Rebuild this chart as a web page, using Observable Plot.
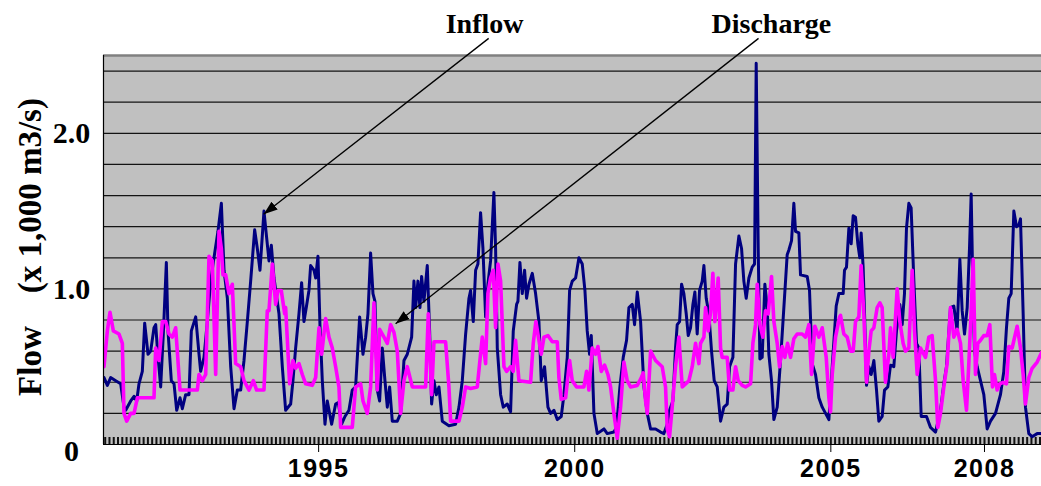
<!DOCTYPE html>
<html><head><meta charset="utf-8">
<script src="https://cdn.jsdelivr.net/npm/d3@7"></script>
<script src="https://cdn.jsdelivr.net/npm/@observablehq/plot@0.6"></script>
<style>
html,body{margin:0;padding:0;background:#fff;}
#chart svg{display:block;}
</style></head><body><div id="chart"></div>
<script>
// Inflow series: [decimal year, flow (x 1,000 m3/s)]
const inflow = [
[1990.81,0.43],[1990.875,0.38],[1990.94,0.43],[1991.038,0.41],[1991.135,0.39],[1991.2,0.24],[1991.233,0.22],[1991.331,0.28],[1991.396,0.31],[1991.448,0.28],[1991.493,0.39],[1991.558,0.47],[1991.604,0.78],[1991.669,0.58],[1991.721,0.60],[1991.786,0.75],[1991.819,0.77],[1991.851,0.62],[1991.916,0.37],[1991.968,0.71],[1992.027,1.17],[1992.059,0.73],[1992.124,0.41],[1992.177,0.39],[1992.229,0.22],[1992.294,0.30],[1992.339,0.23],[1992.404,0.32],[1992.469,0.32],[1992.515,0.73],[1992.6,0.82],[1992.665,0.58],[1992.697,0.47],[1992.762,0.56],[1992.827,0.79],[1992.892,1.05],[1992.957,1.20],[1993.035,1.37],[1993.101,1.55],[1993.153,1.12],[1993.218,0.94],[1993.283,0.50],[1993.348,0.23],[1993.413,0.35],[1993.478,0.35],[1993.543,0.54],[1993.608,0.79],[1993.673,1.05],[1993.751,1.38],[1993.803,1.26],[1993.855,1.12],[1993.933,1.50],[1993.985,1.33],[1994.031,1.18],[1994.077,1.28],[1994.129,1.07],[1994.226,0.84],[1994.291,0.50],
[1994.356,0.22],[1994.454,0.26],[1994.499,0.41],[1994.551,0.62],[1994.616,0.84],[1994.668,1.04],[1994.714,0.79],[1994.759,0.88],[1994.811,0.99],[1994.844,1.15],[1994.909,1.12],[1994.942,1.07],[1994.987,1.21],[1995.026,0.77],[1995.072,0.41],[1995.124,0.13],[1995.169,0.28],[1995.215,0.20],[1995.254,0.13],[1995.332,0.26],[1995.384,0.27],[1995.449,0.13],[1995.514,0.18],[1995.592,0.22],[1995.657,0.35],[1995.722,0.37],[1995.801,0.82],[1995.866,0.58],[1995.918,0.69],[1995.963,0.84],[1996.015,1.23],[1996.061,0.97],[1996.1,0.92],[1996.145,0.35],[1996.191,0.28],[1996.243,0.62],[1996.295,0.41],[1996.341,0.24],[1996.386,0.37],[1996.438,0.15],[1996.536,0.15],[1996.601,0.20],[1996.666,0.54],[1996.731,0.58],[1996.816,0.69],[1996.861,1.05],[1996.894,0.88],[1996.939,1.05],[1996.978,0.88],[1997.011,1.08],[1997.056,0.92],[1997.121,1.15],[1997.167,0.73],[1997.206,0.26],[1997.252,0.41],[1997.297,0.32],[1997.349,0.37],[1997.414,0.15],[1997.544,0.12],[1997.674,0.13],[1997.74,0.24],[1997.805,0.41],[1997.87,0.71],[1997.935,0.94],
[1997.967,0.99],[1998.019,0.79],[1998.065,1.12],[1998.11,1.16],[1998.162,1.49],[1998.208,1.26],[1998.26,0.82],[1998.305,1.03],[1998.357,1.18],[1998.422,1.62],[1998.455,1.26],[1998.488,0.62],[1998.553,0.32],[1998.605,0.24],[1998.683,0.26],[1998.748,0.21],[1998.8,0.73],[1998.865,0.90],[1998.891,0.92],[1998.93,1.17],[1998.976,0.97],[1999.021,1.12],[1999.06,0.94],[1999.106,1.03],[1999.171,1.10],[1999.236,0.97],[1999.301,0.79],[1999.346,0.41],[1999.411,0.50],[1999.477,0.24],[1999.529,0.20],[1999.594,0.22],[1999.659,0.16],[1999.737,0.18],[1999.789,0.32],[1999.854,0.56],[1999.9,0.99],[1999.952,1.05],[2000.017,1.07],[2000.082,1.20],[2000.147,1.16],[2000.199,0.99],[2000.244,0.73],[2000.29,0.58],[2000.323,0.70],[2000.375,0.20],[2000.44,0.07],[2000.57,0.10],[2000.635,0.07],[2000.765,0.08],[2000.817,0.11],[2000.882,0.37],[2000.947,0.56],[2001.012,0.67],[2001.058,0.88],[2001.123,0.90],[2001.168,0.77],[2001.221,0.98],[2001.286,0.79],[2001.351,0.37],[2001.416,0.20],[2001.481,0.10],
[2001.578,0.10],[2001.676,0.08],[2001.741,0.07],[2001.806,0.13],[2001.851,0.22],[2001.916,0.28],[2001.968,0.62],[2002.001,0.77],[2002.047,0.79],[2002.086,1.03],[2002.131,0.97],[2002.177,0.84],[2002.216,0.70],[2002.261,0.75],[2002.307,0.90],[2002.346,0.98],[2002.391,0.71],[2002.437,0.99],[2002.489,1.05],[2002.522,1.15],[2002.567,0.94],[2002.619,0.84],[2002.671,0.60],[2002.723,0.41],[2002.782,0.37],[2002.847,0.15],[2002.912,0.24],[2002.977,0.26],[2003.023,0.50],[2003.088,0.56],[2003.14,1.16],[2003.205,1.34],[2003.257,1.26],[2003.302,1.05],[2003.348,0.94],[2003.4,1.07],[2003.465,1.14],[2003.511,1.16],[2003.543,2.45],[2003.582,1.26],[2003.615,0.55],[2003.66,0.56],[2003.712,1.03],[2003.758,0.88],[2003.79,0.58],[2003.842,0.41],[2003.888,0.16],[2003.953,0.24],[2004.018,0.54],[2004.083,0.88],[2004.148,1.22],[2004.181,1.25],[2004.233,1.31],[2004.278,1.55],[2004.311,1.37],[2004.376,1.36],[2004.408,1.09],[2004.539,1.08],[2004.584,0.99],[2004.636,0.52],[2004.701,0.45],[2004.766,0.30],[2004.832,0.24],[2004.897,0.20],[2004.962,0.16],[2005.027,0.50],[2005.105,0.89],[2005.157,0.97],
[2005.189,0.97],[2005.241,0.97],[2005.267,1.12],[2005.306,1.14],[2005.352,1.39],[2005.397,1.29],[2005.436,1.47],[2005.482,1.46],[2005.527,1.29],[2005.566,1.20],[2005.592,1.36],[2005.631,1.14],[2005.658,0.84],[2005.697,0.38],[2005.742,0.50],[2005.788,0.45],[2005.84,0.54],[2005.892,0.35],[2005.937,0.15],[2006.002,0.18],[2006.048,0.35],[2006.113,0.37],[2006.165,0.51],[2006.23,0.50],[2006.282,0.73],[2006.347,0.90],[2006.393,0.77],[2006.438,0.97],[2006.477,1.39],[2006.523,1.55],[2006.568,1.52],[2006.621,1.05],[2006.673,0.65],[2006.718,0.62],[2006.764,0.18],[2006.868,0.18],[2006.946,0.11],[2007.044,0.08],[2007.141,0.22],[2007.206,0.39],[2007.258,0.50],[2007.336,0.88],[2007.401,0.89],[2007.466,0.73],[2007.519,1.19],[2007.564,0.86],[2007.61,0.71],[2007.662,0.88],[2007.707,1.26],[2007.74,1.61],[2007.772,1.03],[2007.805,0.60],[2007.857,0.50],[2007.922,0.41],[2007.987,0.32],[2008.052,0.10],[2008.117,0.15],[2008.215,0.20],[2008.312,0.32],[2008.377,0.47],[2008.429,0.75],[2008.475,0.94],[2008.521,0.97],[2008.573,1.50],[2008.625,1.40],[2008.67,1.41],[2008.703,1.45],[2008.755,0.84],[2008.8,0.24],[2008.865,0.07],[2008.93,0.05],[2009.028,0.07],[2009.113,0.07]
];

// Discharge series: [decimal year, flow (x 1,000 m3/s)]
const discharge = [
[1990.81,0.50],[1990.875,0.73],[1990.927,0.85],[1990.992,0.73],[1991.103,0.71],[1991.168,0.65],[1991.2,0.20],[1991.253,0.15],[1991.331,0.20],[1991.396,0.20],[1991.461,0.30],[1991.786,0.30],[1991.819,0.62],[1991.884,0.54],[1991.949,0.79],[1992.014,0.79],[1992.079,0.71],[1992.144,0.69],[1992.209,0.75],[1992.294,0.35],[1992.632,0.35],[1992.665,0.45],[1992.73,0.41],[1992.795,0.45],[1992.86,1.21],[1992.925,1.18],[1992.99,0.45],[1993.055,1.37],[1993.101,1.26],[1993.133,1.09],[1993.185,1.09],[1993.25,0.97],[1993.315,1.03],[1993.38,0.52],[1993.478,0.50],[1993.543,0.41],[1993.641,0.35],[1993.725,0.41],[1993.79,0.35],[1993.933,0.35],[1993.998,0.86],[1994.031,0.86],[1994.096,1.16],[1994.161,0.90],[1994.206,0.99],[1994.271,0.99],[1994.337,0.84],
[1994.356,0.88],[1994.434,0.39],[1994.499,0.54],[1994.551,0.49],[1994.616,0.52],[1994.681,0.45],[1994.746,0.39],[1994.876,0.38],[1994.942,0.43],[1995.007,0.75],[1995.059,0.58],[1995.137,0.81],[1995.202,0.69],[1995.267,0.62],[1995.332,0.50],[1995.397,0.37],[1995.43,0.11],[1995.657,0.11],[1995.722,0.37],[1995.82,0.39],[1995.866,0.28],[1995.95,0.20],[1996.015,0.37],[1996.08,0.91],[1996.145,0.35],[1996.191,0.74],[1996.276,0.69],[1996.341,0.65],[1996.406,0.77],[1996.471,0.72],[1996.536,0.60],[1996.601,0.20],[1996.666,0.41],[1996.731,0.50],[1996.829,0.37],[1997.089,0.37],[1997.141,0.84],[1997.206,0.32],[1997.252,0.66],[1997.479,0.66],[1997.544,0.37],[1997.577,0.15],[1997.74,0.15],[1997.805,0.24],[1997.87,0.37],
[1997.967,0.36],[1998.097,0.37],[1998.195,0.69],[1998.26,0.52],[1998.305,0.97],[1998.357,1.07],[1998.409,1.12],[1998.455,0.75],[1998.501,1.16],[1998.553,1.05],[1998.618,0.50],[1998.67,0.47],[1998.748,0.50],[1998.8,0.47],[1998.845,0.67],[1998.911,0.41],[1999.138,0.40],[1999.19,0.65],[1999.242,0.79],[1999.301,0.67],[1999.346,0.58],[1999.399,0.69],[1999.477,0.70],[1999.561,0.66],[1999.659,0.66],[1999.691,0.43],[1999.737,0.29],[1999.822,0.30],[1999.9,0.54],[1999.952,0.41],[2000.036,0.37],[2000.179,0.37],[2000.231,0.47],[2000.277,0.35],[2000.342,0.62],[2000.407,0.58],[2000.453,0.63],[2000.518,0.47],[2000.583,0.51],[2000.648,0.45],[2000.7,0.37],[2000.765,0.20],[2000.83,0.04],[2000.895,0.24],[2000.96,0.53],[2001.025,0.41],[2001.09,0.37],[2001.221,0.38],[2001.286,0.42],[2001.338,0.46],[2001.383,0.28],[2001.416,0.20],[2001.481,0.60],
[2001.578,0.54],[2001.708,0.50],[2001.773,0.37],[2001.806,0.10],[2001.851,0.05],[2001.903,0.24],[2001.968,0.50],[2002.033,0.69],[2002.099,0.37],[2002.164,0.39],[2002.229,0.41],[2002.294,0.50],[2002.359,0.65],[2002.424,0.52],[2002.456,0.65],[2002.522,0.69],[2002.554,0.88],[2002.606,0.73],[2002.652,0.85],[2002.697,1.10],[2002.736,0.79],[2002.801,1.07],[2002.847,0.62],[2002.879,0.56],[2002.977,0.56],[2003.023,0.35],[2003.088,0.35],[2003.14,0.50],[2003.192,0.41],[2003.27,0.38],[2003.335,0.37],[2003.433,0.39],[2003.478,0.65],[2003.53,0.77],[2003.563,1.03],[2003.615,0.77],[2003.673,0.69],[2003.725,0.86],[2003.777,0.84],[2003.842,1.08],[2003.888,0.79],[2003.953,0.65],[2003.999,0.50],[2004.051,0.63],[2004.103,0.56],[2004.155,0.65],[2004.213,0.56],[2004.278,0.68],[2004.343,0.71],[2004.441,0.71],[2004.506,0.69],[2004.571,0.77],[2004.623,0.45],[2004.688,0.76],[2004.766,0.69],[2004.832,0.75],[2004.91,0.56],[2004.962,0.30],[2004.994,0.21],[2005.027,0.45],[2005.092,0.69],[2005.17,0.82],
[2005.189,0.83],[2005.254,0.71],[2005.319,0.69],[2005.384,0.60],[2005.436,0.60],[2005.482,0.79],[2005.547,0.82],[2005.592,1.15],[2005.644,0.84],[2005.697,0.40],[2005.742,0.60],[2005.788,0.73],[2005.84,0.75],[2005.905,0.88],[2005.957,0.91],[2006.002,0.88],[2006.067,0.40],[2006.133,0.58],[2006.165,0.75],[2006.217,0.56],[2006.295,1.00],[2006.347,0.79],[2006.412,0.65],[2006.458,0.60],[2006.523,0.62],[2006.588,1.12],[2006.634,0.73],[2006.686,0.45],[2006.751,0.62],[2006.848,0.56],[2006.913,0.69],[2006.978,0.70],[2007.044,0.41],[2007.089,0.11],[2007.141,0.20],[2007.206,0.37],[2007.271,0.52],[2007.336,0.88],[2007.401,0.69],[2007.466,0.74],[2007.532,0.65],[2007.584,0.41],[2007.649,0.22],[2007.694,0.52],[2007.74,0.86],[2007.779,1.19],[2007.824,0.45],[2007.87,0.65],[2007.922,0.67],[2007.987,0.70],[2008.052,0.70],[2008.104,0.77],[2008.156,0.37],[2008.195,0.45],[2008.247,0.35],[2008.299,0.39],[2008.364,0.40],[2008.429,0.39],[2008.475,0.63],[2008.54,0.62],[2008.638,0.76],[2008.703,0.62],[2008.755,0.45],[2008.8,0.26],[2008.865,0.43],[2008.93,0.49],[2009.028,0.53],[2009.113,0.59]
];

const yearTicks = [1995, 2000, 2005, 2008];
const valueTicks = [1, 2];
const zeroTick = [0];
const gridValues = [0.2, 0.4, 0.6, 0.8, 1.0, 1.2, 1.4, 1.6, 1.8, 2.0, 2.2, 2.4];
const xDomain = [1990.8, 2009.113];
const yDomain = [0, 2.5];
const yLabel = "Flow\u00a0\u00a0\u00a0\u00a0(x 1,000 m3/s)";
const annotations = [
  {label: "Inflow", tx: 1998.24, ty: 2.705, x1: 1998.32, y1: 2.61, x2: 1993.926, y2: 1.48},
  {label: "Discharge", tx: 2003.84, ty: 2.705, x1: 2003.589, y1: 2.61, x2: 1996.503, y2: 0.776}
];
// monthly minor tick positions
const monthTicks = d3.range(0, 220).map(i => 1990 + 10/12 + i/12).filter(v => v < xDomain[1]);

const serif = "'Liberation Serif', 'Times New Roman', serif";
const sans = "'Liberation Sans', Arial, sans-serif";

const plot = Plot.plot({
  width: 1041,
  height: 486,
  marginLeft: 103,
  marginRight: 0,
  marginTop: 55,
  marginBottom: 42,
  x: {domain: xDomain},
  y: {domain: yDomain},
  style: {background: "#ffffff", overflow: "visible"},
  marks: [
    Plot.frame({fill: "#c0c0c0", stroke: "none"}),
    Plot.ruleY(gridValues, {stroke: "#000", strokeWidth: 1.2, strokeOpacity: 0.9}),
    Plot.ruleY([2.5], {stroke: "#808080", strokeWidth: 2.5}),
    Plot.tickX(monthTicks, {x: d => d, stroke: "#111", strokeWidth: 2, insetTop: 382}),
    Plot.line(inflow, {x: d => d[0], y: d => d[1], stroke: "#000080", strokeWidth: 3, clip: true}),
    Plot.line(discharge, {x: d => d[0], y: d => d[1], stroke: "#ff00ff", strokeWidth: 3.6, clip: true}),
    Plot.ruleX([xDomain[0]], {stroke: "#000", strokeWidth: 1.2}),
    Plot.ruleY([0], {stroke: "#000", strokeWidth: 1.2}),
    Plot.axisX({ticks: yearTicks, tickSize: 8, tickPadding: 7, tickFormat: d => String(d),
      fontSize: 25, fontWeight: "bold", fontFamily: sans, label: null, stroke: "#000"}),
    Plot.axisY({ticks: valueTicks, tickSize: 0, tickPadding: 32, textAnchor: "middle",
      tickFormat: d => d.toFixed(1), fontSize: 30, fontWeight: "bold", fontFamily: serif, label: null}),
    Plot.axisY({ticks: zeroTick, tickSize: 0, tickPadding: 32, textAnchor: "middle", dy: 7,
      tickFormat: () => "0", fontSize: 30, fontWeight: "bold", fontFamily: serif, label: null}),
    Plot.text(annotations, {x: "tx", y: "ty", text: "label", fontSize: 28, fontWeight: "bold", fontFamily: serif, fill: "#000"}),
    Plot.link(annotations, {x1: "x1", y1: "y1", x2: "x2", y2: "y2", stroke: "#000", strokeWidth: 1.3})
  ]
});

const svg = d3.select(plot);
const defs = svg.insert("defs", ":first-child");
defs.append("marker")
  .attr("id", "ahead")
  .attr("viewBox", "0 0 14 10")
  .attr("refX", 14).attr("refY", 5)
  .attr("markerWidth", 14).attr("markerHeight", 10)
  .attr("markerUnits", "userSpaceOnUse")
  .attr("orient", "auto")
  .append("path").attr("d", "M0,0L14,5L0,10Z").attr("fill", "#000");
svg.selectAll('g[aria-label="link"] path').attr("marker-end", "url(#ahead)");
svg.selectAll('g[aria-label="x-axis tick label"] text').style("letter-spacing", "1.5px");

svg.append("text")
  .attr("transform", "translate(41,247) rotate(-90)")
  .attr("text-anchor", "middle")
  .attr("font-family", serif)
  .attr("font-weight", "bold")
  .attr("font-size", 33)
  .attr("fill", "#000")
  .text(yLabel);

document.getElementById("chart").appendChild(plot);
</script>
</body></html>
